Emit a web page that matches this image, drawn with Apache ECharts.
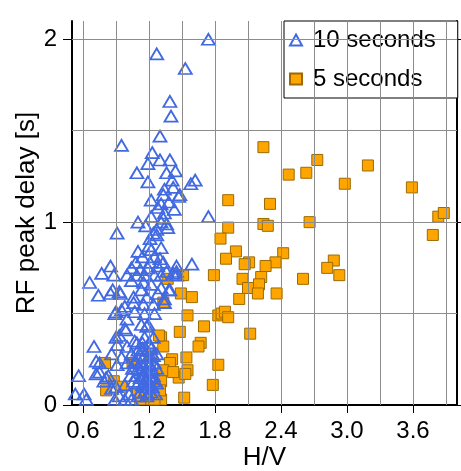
<!DOCTYPE html>
<html lang="en">
  <head>
    <meta charset="UTF-8" />
    <title>RF peak delay vs H/V</title>
    <script src="https://cdn.jsdelivr.net/npm/echarts@6/dist/echarts.min.js"></script>
    <style>
      html, body { margin: 0; padding: 0; background: #fff; }
      #chart { width: 461px; height: 471px; }
    </style>
  </head>
  <body>
    <div id="chart"></div>
    <script>
      // tick labels / grid positions
      const xLabels = [0.6, 1.2, 1.8, 2.4, 3.0, 3.6];
      const xGrid = [0.6, 0.9, 1.2, 1.5, 1.8, 2.1, 2.4, 2.7, 3.0, 3.3, 3.6, 3.9];
      const yLabels = [0, 1, 2];
      const yGrid = [0.5, 1, 1.5, 2];

      // [H/V, delay] for 10 second period (triangles)
      const tenSeconds = [
        [1.74, 2.00], [1.27, 1.92], [1.53, 1.84], [1.39, 1.66], [1.40, 1.58], [1.30, 1.47],
        [0.95, 1.42], [1.23, 1.38], [1.19, 1.32], [1.30, 1.34], [1.39, 1.34], [1.09, 1.27],
        [1.36, 1.27], [1.44, 1.28], [1.19, 1.22], [1.41, 1.23], [1.62, 1.23], [1.58, 1.21],
        [1.34, 1.18], [1.42, 1.19], [1.22, 1.12], [1.47, 1.14], [1.33, 1.15], [1.31, 1.10],
        [1.38, 1.11], [1.28, 1.08], [1.43, 1.07], [1.34, 1.05], [1.22, 1.03], [1.33, 1.02],
        [1.74, 1.03], [1.10, 1.00], [1.17, 0.98], [1.36, 0.99], [0.91, 0.94], [1.24, 0.94],
        [1.27, 0.96], [1.37, 0.97], [1.31, 1.00], [1.48, 1.15],
        [1.21, 0.91], [1.27, 0.93], [1.20, 0.87], [1.22, 0.85], [1.31, 0.86], [1.10, 0.84],
        [1.14, 0.81], [1.25, 0.81], [1.30, 0.80], [1.08, 0.78], [1.21, 0.78], [1.33, 0.78],
        [0.85, 0.76], [0.77, 0.72], [0.88, 0.71], [1.04, 0.75], [1.12, 0.74], [1.19, 0.75],
        [1.28, 0.76], [1.00, 0.71], [1.09, 0.71], [1.16, 0.71], [1.25, 0.71], [1.31, 0.71],
        [1.45, 0.73], [1.59, 0.77], [0.66, 0.67], [1.04, 0.68], [1.15, 0.67], [1.22, 0.66],
        [1.13, 0.63], [1.31, 0.64], [1.38, 0.63], [0.74, 0.60], [0.85, 0.61], [0.94, 0.61],
        [1.06, 0.59], [1.18, 0.59], [1.28, 0.61], [1.34, 0.56], [1.06, 0.56], [1.15, 0.55],
        [1.24, 0.55], [0.98, 0.54], [0.89, 0.50], [0.95, 0.52], [1.07, 0.51], [1.16, 0.50],
        [1.25, 0.50], [1.00, 0.47], [1.45, 0.76], [1.45, 0.71], [1.36, 0.73], [1.39, 0.63],
        [1.34, 0.58], [0.87, 0.63], [0.93, 0.62], [0.90, 0.51], [1.42, 0.72],
        [0.93, 0.38], [0.99, 0.41], [0.70, 0.32], [0.72, 0.24], [0.56, 0.16], [0.61, 0.06],
        [0.53, 0.06], [0.63, 0.03], [0.83, 0.16], [0.79, 0.13], [0.86, 0.28], [0.91, 0.33],
        [0.91, 0.22], [1.00, 0.32], [1.04, 0.28], [0.95, 0.26], [1.00, 0.23], [1.07, 0.24],
        [1.03, 0.16], [0.98, 0.11], [0.86, 0.09], [0.89, 0.03], [0.98, 0.03], [1.04, 0.03],
        [1.10, 0.05], [1.13, 0.44], [1.19, 0.44], [1.24, 0.37], [1.16, 0.37], [1.09, 0.34],
        [0.98, 0.42], [0.90, 0.37], [1.07, 0.35], [1.18, 0.43], [0.72, 0.17], [0.75, 0.23],
        [0.75, 0.18], [0.81, 0.15], [0.90, 0.10], [0.93, 0.05], [1.02, 0.06], [1.18, 0.05],
        [1.24, 0.13],
        [1.10, 0.30], [1.14, 0.31], [1.18, 0.30], [1.22, 0.31], [1.12, 0.27], [1.16, 0.27],
        [1.20, 0.26], [1.24, 0.27], [1.27, 0.28], [1.08, 0.24], [1.12, 0.23], [1.15, 0.22],
        [1.18, 0.24], [1.21, 0.22], [1.25, 0.23], [1.10, 0.20], [1.13, 0.19], [1.17, 0.19],
        [1.20, 0.18], [1.23, 0.19], [1.27, 0.20], [1.08, 0.16], [1.12, 0.15], [1.15, 0.16],
        [1.18, 0.14], [1.21, 0.15], [1.24, 0.16], [1.10, 0.12], [1.14, 0.11], [1.17, 0.10],
        [1.20, 0.11], [1.23, 0.10], [1.27, 0.12], [1.12, 0.07], [1.16, 0.07], [1.19, 0.06],
        [1.22, 0.07], [1.26, 0.06], [1.14, 0.34], [1.20, 0.34], [1.06, 0.13], [1.05, 0.20]
      ];

      // [H/V, delay] for 5 second period (squares)
      const fiveSeconds = [
        [2.73, 1.34], [2.63, 1.27], [3.19, 1.31], [2.98, 1.21], [3.59, 1.19], [3.83, 1.03],
        [3.88, 1.05], [3.78, 0.93], [2.66, 1.00], [2.88, 0.79], [2.82, 0.75], [2.93, 0.71],
        [2.60, 0.69], [2.24, 1.41], [2.47, 1.26], [1.92, 1.12], [2.30, 1.10], [1.92, 0.97],
        [2.24, 0.99], [2.28, 0.98], [1.85, 0.91], [1.99, 0.84], [1.90, 0.80], [2.42, 0.83],
        [2.11, 0.78], [2.07, 0.77], [2.35, 0.78], [2.26, 0.76], [1.79, 0.71], [2.05, 0.69],
        [2.22, 0.70], [2.20, 0.66], [2.10, 0.64], [2.19, 0.61], [2.02, 0.58], [2.36, 0.61],
        [1.37, 0.69], [1.51, 0.71], [1.49, 0.61], [1.59, 0.59], [1.83, 0.49], [1.86, 0.50],
        [1.89, 0.51], [1.92, 0.48], [1.55, 0.49], [1.70, 0.43], [1.48, 0.40], [2.12, 0.39],
        [1.67, 0.34], [1.65, 0.32], [1.31, 0.37], [1.33, 0.32], [1.41, 0.25], [1.39, 0.23],
        [1.54, 0.26], [1.33, 0.19], [1.47, 0.15], [1.55, 0.19], [1.53, 0.17], [1.83, 0.22],
        [1.78, 0.11], [1.31, 0.13], [1.31, 0.03], [1.52, 0.04], [1.33, 0.56], [1.29, 0.38],
        [1.22, 0.28], [0.80, 0.23], [1.05, 0.23], [0.81, 0.08], [1.22, 0.03], [1.25, 0.03],
        [1.12, 0.03], [1.30, 0.08], [0.88, 0.13], [0.95, 0.10], [1.10, 0.07], [1.42, 0.18]
      ];

      const font = "Liberation Sans";
      const chart = echarts.init(document.getElementById("chart"));

      const axisLine = { show: true, lineStyle: { color: "#000", width: 2 } };
      const tickStyle = { color: "#000", width: 1 };

      chart.setOption({
        animation: false,
        grid: { left: 72, right: 4, top: 21, bottom: 66, outerBoundsMode: "none", containLabel: false },
        legend: {
          data: ["10 seconds", "5 seconds"],
          orient: "vertical",
          left: 284,
          top: 21,
          padding: [7, 22, 7, 5],
          itemGap: 15,
          itemWidth: 12,
          itemHeight: 11,
          backgroundColor: "#fff",
          borderColor: "#000",
          borderWidth: 1,
          borderRadius: 0,
          textStyle: { fontSize: 24, color: "#000", fontFamily: font, padding: [0, 0, 0, 6] }
        },
        xAxis: [
          {
            type: "value",
            position: "bottom",
            min: 0.5,
            max: 4.0,
            name: "H/V",
            nameLocation: "middle",
            nameGap: 40,
            nameMoveOverlap: false,
            nameTextStyle: { fontSize: 26, color: "#000", fontFamily: font },
            axisLine: axisLine,
            axisTick: { show: true, inside: false, length: 8, customValues: xLabels, lineStyle: tickStyle },
            axisLabel: {
              customValues: xLabels,
              formatter: (v) => v.toFixed(1),
              fontSize: 24,
              color: "#000",
              fontFamily: font,
              margin: 14
            },
            splitLine: { show: false }
          },
          {
            type: "value",
            position: "top",
            min: 0.5,
            max: 4.0,
            axisLine: axisLine,
            axisTick: { show: true, inside: false, length: 9, customValues: xLabels, lineStyle: tickStyle },
            axisLabel: { show: false },
            splitLine: { show: false }
          }
        ],
        yAxis: [
          {
            type: "value",
            position: "left",
            min: 0,
            max: 2.1,
            name: "RF peak delay [s]",
            nameLocation: "middle",
            nameGap: 32,
            nameMoveOverlap: false,
            nameTextStyle: { fontSize: 26, color: "#000", fontFamily: font },
            axisLine: axisLine,
            axisTick: { show: true, inside: false, length: 9, customValues: yLabels, lineStyle: tickStyle },
            axisLabel: {
              customValues: yLabels,
              fontSize: 24,
              color: "#000",
              fontFamily: font,
              margin: 15
            },
            splitLine: { show: false }
          },
          {
            type: "value",
            position: "right",
            min: 0,
            max: 2.1,
            axisLine: axisLine,
            axisTick: { show: true, inside: false, length: 6, customValues: yLabels, lineStyle: tickStyle },
            axisLabel: { show: false },
            splitLine: { show: false }
          }
        ],
        series: [
          {
            // grid lines, drawn through the axes' own scales
            type: "scatter",
            data: [],
            z: 1,
            silent: true,
            markLine: {
              silent: true,
              symbol: ["none", "none"],
              label: { show: false },
              lineStyle: { color: "#8c8c8c", width: 1, type: "solid" },
              data: xGrid.map((v) => ({ xAxis: v })).concat(yGrid.map((v) => ({ yAxis: v })))
            }
          },
          {
            name: "5 seconds",
            type: "scatter",
            z: 3,
            symbol: "rect",
            symbolSize: 11,
            itemStyle: { color: "#FFA500", borderColor: "#9c6b00", borderWidth: 1, opacity: 1 },
            data: fiveSeconds
          },
          {
            name: "10 seconds",
            type: "scatter",
            z: 4,
            symbol: "triangle",
            symbolSize: [13, 11],
            itemStyle: { color: "rgba(0,0,0,0)", borderColor: "#4169E1", borderWidth: 1.8, opacity: 1 },
            data: tenSeconds
          }
        ]
      });
    </script>
  </body>
</html>
